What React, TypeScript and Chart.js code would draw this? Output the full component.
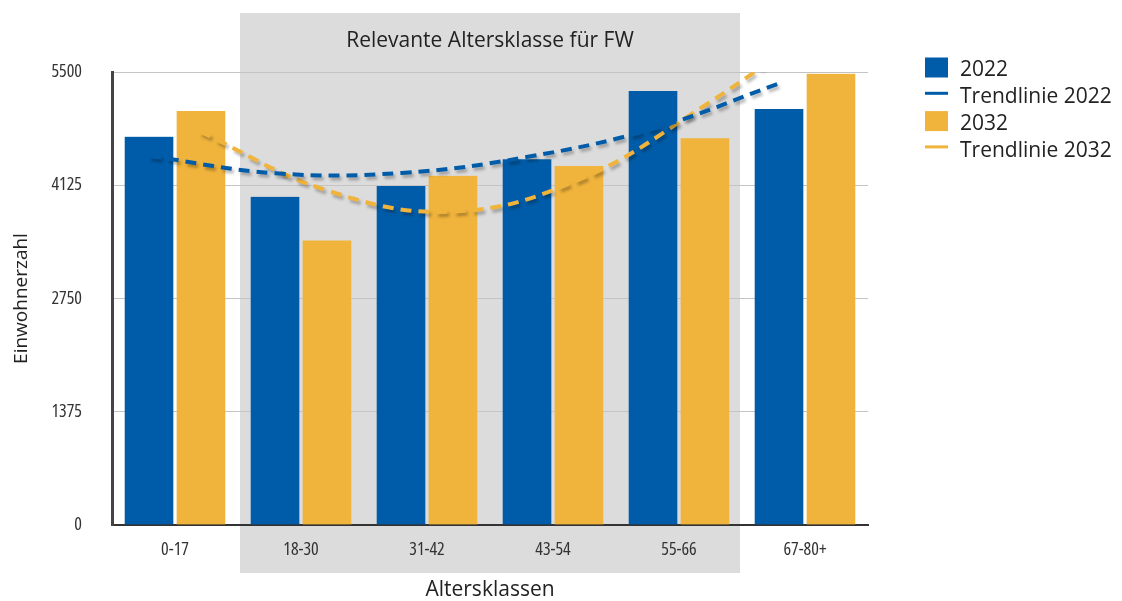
import React, { useEffect, useRef } from "react";
import { Chart, registerables } from "chart.js";

Chart.register(...registerables);

// ---- data ----
const categories = ["0-17", "18-30", "31-42", "43-54", "55-66", "67-80+"];
const values2022 = [4715, 3985, 4115, 4440, 5270, 5050];
const values2032 = [5025, 3455, 4240, 4360, 4695, 5480];
const trend2022 = [4480, 4270, 4275, 4470, 4815, 5365];
const trend2032 = [4775, 4065, 3805, 4190, 5090, 6150];
const yTicks = [0, 1375, 2750, 4125, 5500];
const legendLabels = ["2022", "Trendlinie 2022", "2032", "Trendlinie 2032"];
const highlightTitle = "Relevante Altersklasse für FW";
const highlightFrom = 1;
const highlightTo = 4;
const xTitle = "Altersklassen";
const yTitle = "Einwohnerzahl";

// ---- styles ----
const BLUE = "#005ca8";
const YELLOW = "#f0b43c";
const BAND = "#dcdcdc";
const TEXT = "#222222";
const SANS = "'Open Sans', 'Noto Sans', sans-serif";
const TICK_FONT = { family: "'Open Sans', 'Roboto Condensed', sans-serif", size: 18, weight: "condensed" };
const BAR_OFFSET = 0.2;
const BAR_THICKNESS = 50.4;

const bandPlugin = {
  id: "band",
  beforeDraw(chart: any) {
    const { ctx, chartArea: ca, scales } = chart;
    const x = scales.x;
    const half = (x.getPixelForValue(1) - x.getPixelForValue(0)) / 2;
    const x1 = x.getPixelForValue(highlightFrom) - half + 2;
    const x2 = x.getPixelForValue(highlightTo) + half - 2;
    const top = ca.top - 59;
    const bottom = ca.bottom + 48;
    ctx.save();
    ctx.fillStyle = BAND;
    ctx.fillRect(x1, top, x2 - x1, bottom - top);
    ctx.fillStyle = TEXT;
    ctx.font = `21px ${SANS}`;
    ctx.textAlign = "center";
    ctx.textBaseline = "middle";
    ctx.fillText(highlightTitle, (x1 + x2) / 2, ca.top - 31);
    ctx.restore();
  },
};

const shadowPlugin = {
  id: "lineShadow",
  beforeDatasetDraw(chart: any, args: any) {
    const ds = chart.data.datasets[args.index];
    if (ds.type !== "line") return;
    const ctx = chart.ctx;
    ctx.save();
    ctx.shadowColor = "rgba(0,0,0,0.28)";
    ctx.shadowOffsetX = 2;
    ctx.shadowOffsetY = 3;
    ctx.shadowBlur = 3;
  },
  afterDatasetDraw(chart: any, args: any) {
    const ds = chart.data.datasets[args.index];
    if (ds.type !== "line") return;
    chart.ctx.restore();
  },
};

const legendPlugin = {
  id: "customLegend",
  afterDraw(chart: any) {
    const { ctx, chartArea: ca } = chart;
    const lx = ca.right + 57;
    const colors = [BLUE, BLUE, YELLOW, YELLOW];
    const isLine = [false, true, false, true];
    ctx.save();
    ctx.font = `21px ${SANS}`;
    ctx.textAlign = "left";
    ctx.textBaseline = "middle";
    legendLabels.forEach((label, i) => {
      const cy = ca.top - 1.5 + i * 26.8;
      ctx.fillStyle = colors[i];
      if (isLine[i]) {
        ctx.fillRect(lx, cy - 5.5, 23, 3);
      } else {
        ctx.fillRect(lx, cy - 13, 23, 20);
      }
      ctx.fillStyle = TEXT;
      ctx.fillText(label, lx + 35, cy);
    });
    ctx.restore();
  },
};

export default function App() {
  const ref = useRef<HTMLCanvasElement | null>(null);

  useEffect(() => {
    if (!ref.current) return;
    const chart = new Chart(ref.current, {
      type: "bar",
      data: {
        labels: categories,
        datasets: [
          {
            type: "line",
            label: legendLabels[1],
            xAxisID: "xt",
            data: trend2022.map((v, i) => ({ x: i - BAR_OFFSET, y: v })),
            borderColor: BLUE,
            borderWidth: 4,
            borderDash: [11, 7],
            pointRadius: 0,
            tension: 0.4,
            capBezierPoints: false,
            fill: false,
            order: 0,
          } as any,
          {
            type: "line",
            label: legendLabels[3],
            xAxisID: "xt",
            data: trend2032.map((v, i) => ({ x: i + BAR_OFFSET, y: v })),
            borderColor: YELLOW,
            borderWidth: 4,
            borderDash: [11, 7],
            pointRadius: 0,
            tension: 0.4,
            capBezierPoints: false,
            fill: false,
            order: 0,
          } as any,
          {
            type: "bar",
            label: legendLabels[0],
            data: values2022,
            backgroundColor: BLUE,
            borderColor: "rgba(0,0,0,0)",
            borderWidth: { top: 0, bottom: 0, left: 0, right: 2 },
            barThickness: BAR_THICKNESS,
            order: 1,
          } as any,
          {
            type: "bar",
            label: legendLabels[2],
            data: values2032,
            backgroundColor: YELLOW,
            borderColor: "rgba(0,0,0,0)",
            borderWidth: { top: 0, bottom: 0, left: 2, right: 0 },
            barThickness: BAR_THICKNESS,
            order: 1,
          } as any,
        ],
      },
      options: {
        responsive: false,
        animation: false,
        devicePixelRatio: 1,
        layout: { padding: { top: 72, right: 254, bottom: 0, left: 0 } },
        plugins: {
          legend: { display: false },
          tooltip: { enabled: false },
          title: { display: false },
        },
        scales: {
          x: {
            type: "category",
            offset: true,
            grid: { display: false, drawTicks: false },
            border: { display: true, color: "#333333", width: 2 },
            ticks: {
              padding: 14,
              color: "#333333",
              font: TICK_FONT,
              maxRotation: 0,
            },
            title: {
              display: true,
              text: xTitle,
              color: TEXT,
              font: { family: SANS, size: 21 },
              padding: { top: 0, bottom: -2 },
            },
            afterFit: (s: any) => {
              s.height = 76;
            },
          },
          xt: {
            type: "linear",
            display: false,
            min: -0.5,
            max: categories.length - 0.5,
            offset: false,
          },
          y: {
            type: "linear",
            min: 0,
            max: 5500,
            afterBuildTicks: (s: any) => {
              s.ticks = yTicks.map((v) => ({ value: v }));
            },
            ticks: {
              padding: 30,
              color: "#333333",
              font: TICK_FONT,
              callback: (v: any) => String(v),
            },
            grid: { color: "#c4c4c4", lineWidth: 1, drawTicks: false },
            border: { display: true, color: "#444444", width: 3 },
            title: {
              display: true,
              text: yTitle,
              color: TEXT,
              font: { family: SANS, size: 19 },
              padding: { top: 10, bottom: 0 },
            },
            afterFit: (s: any) => {
              s.width = 112;
            },
          },
        },
      } as any,
      plugins: [bandPlugin, shadowPlugin, legendPlugin],
    });
    return () => chart.destroy();
  }, []);

  return (
    <div style={{ position: "fixed", left: 0, top: 0, width: 1122, height: 601, background: "#fff" }}>
      <canvas ref={ref} width={1122} height={601} style={{ width: 1122, height: 601, display: "block" }} />
    </div>
  );
}
